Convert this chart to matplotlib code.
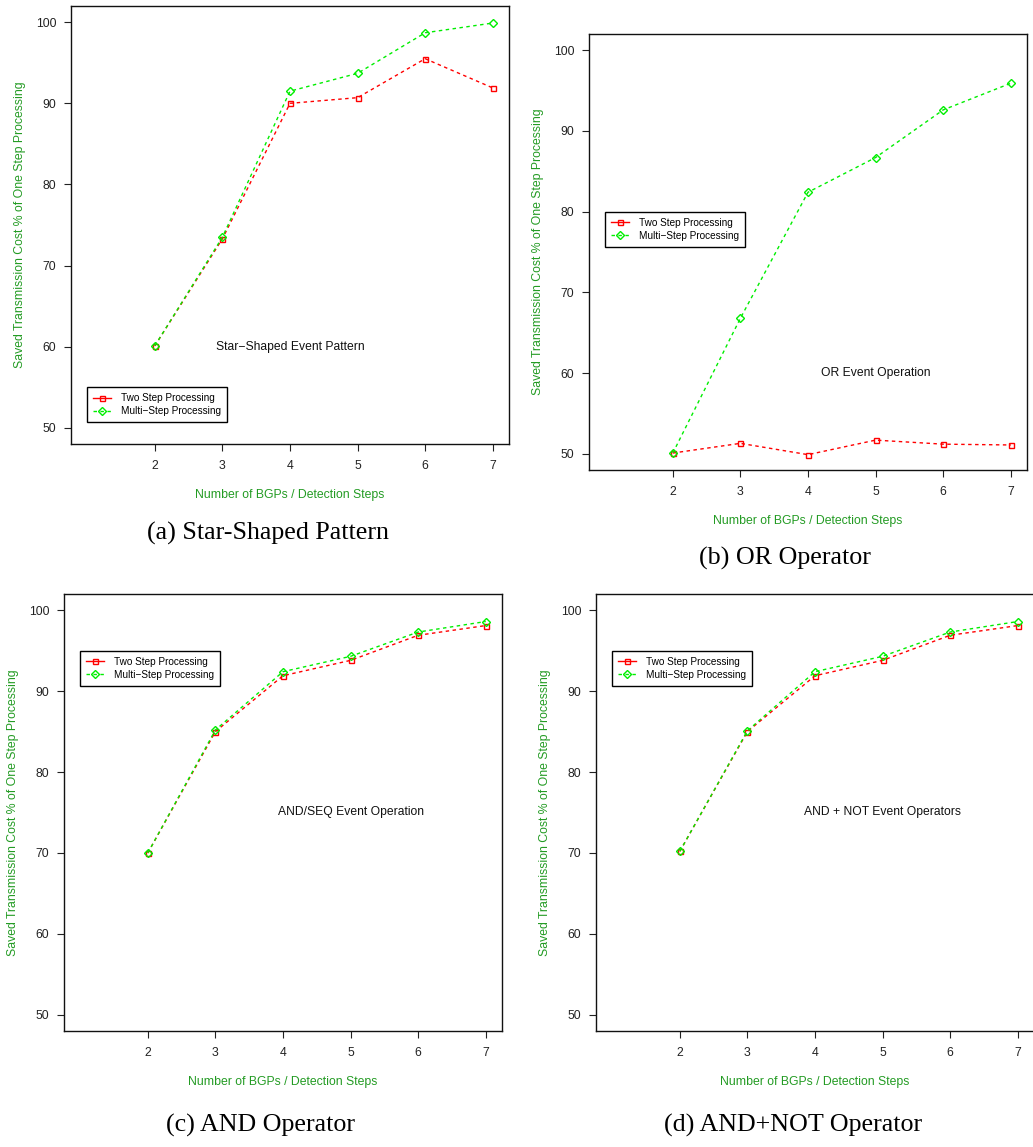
import matplotlib
matplotlib.use("Agg")
import matplotlib.pyplot as plt
from matplotlib.lines import Line2D

plt.rcParams['font.family'] = ['Liberation Sans', 'DejaVu Sans']

steps = [2, 3, 4, 5, 6, 7]

# (a) star-shaped pattern
star_two = [60.1, 73.3, 90.0, 90.7, 95.5, 91.9]
star_multi = [60.1, 73.5, 91.5, 93.7, 98.7, 99.9]
# (b) OR operator
or_two = [50.1, 51.3, 49.9, 51.7, 51.2, 51.1]
or_multi = [50.1, 66.8, 82.4, 86.7, 92.6, 95.9]
# (c) AND operator
and_two = [70.0, 85.0, 91.9, 93.8, 96.9, 98.1]
and_multi = [70.0, 85.2, 92.4, 94.3, 97.3, 98.6]
# (d) AND+NOT operator
andnot_two = [70.2, 85.0, 91.9, 93.8, 96.9, 98.1]
andnot_multi = [70.2, 85.1, 92.4, 94.3, 97.3, 98.6]

yticks = [50, 60, 70, 80, 90, 100]
series_names = ["Two Step Processing", "Multi\u2212Step Processing"]

panels = [
    # left, top, height (px), two, multi, note, note_xy, legend_xy, caption, caption_xy
    (71, 6, 438, star_two, star_multi, "Star\u2212Shaped Event Pattern", (4, 60), (1, 55),
     "(a) Star-Shaped Pattern", (268, 533)),
    (589, 34, 436, or_two, or_multi, "OR Event Operation", (5, 60), (1, 80),
     "(b) OR Operator", (785, 558)),
    (64, 594, 437, and_two, and_multi, "AND/SEQ Event Operation", (5, 75), (1, 95),
     "(c) AND Operator", (261, 1125)),
    (596, 594, 437, andnot_two, andnot_multi, "AND + NOT Event Operators", (5, 75), (1, 95),
     "(d) AND+NOT Operator", (793, 1125)),
]

W, H = 1033, 1147
fig = plt.figure(figsize=(W / 100, H / 100), dpi=100)
lab_col = "#239b23"
red = "#ff0000"
green = "#00ee00"

for left, top, h, two, multi, note, nxy, lxy, cap, cxy in panels:
    w = 438
    ax = fig.add_axes([left / W, 1 - (top + h) / H, w / W, h / H])
    ax.plot(steps, two, color=red, lw=1, dashes=(2.5, 2.5), marker='s', ms=3.6,
            mfc='none', mec=red, mew=1)
    ax.plot(steps, multi, color=green, lw=1, dashes=(2.5, 2.5), marker='D', ms=3.6,
            mfc='none', mec=green, mew=1)
    ax.set_xlim(0.76, 7.24)
    ax.set_ylim(48, 102)
    ax.set_xticks(steps)
    ax.set_yticks(yticks)
    ax.tick_params(axis='both', direction='out', length=5, width=0.8, labelsize=8.8,
                   colors='#222222')
    ax.tick_params(axis='x', pad=6.5)
    ax.tick_params(axis='y', pad=5.5)
    for s in ax.spines.values():
        s.set_linewidth(1.0)
        s.set_color('#111111')
    ax.set_xlabel("Number of BGPs / Detection Steps", color=lab_col, fontsize=8.8)
    ax.set_ylabel("Saved Transmission Cost % of One Step Processing", color=lab_col,
                  fontsize=8.8)
    ax.xaxis.set_label_coords(0.5, -45 / h)
    ax.yaxis.set_label_coords(-45 / w, 0.5)
    ax.text(nxy[0], nxy[1], note, ha='center', va='center', fontsize=8.7, color='#111111')

    handles = [
        Line2D([], [], color=red, lw=1, marker='s', ms=3.6, mfc='none', mec=red),
        Line2D([], [], color=green, lw=1, dashes=(2.5, 2.5), marker='D', ms=3.6,
               mfc='none', mec=green),
    ]
    leg = ax.legend(handles, series_names, loc='upper left', bbox_to_anchor=lxy,
                    bbox_transform=ax.transData, borderaxespad=0, fontsize=7.2,
                    frameon=True, fancybox=False, framealpha=1, edgecolor='black',
                    handlelength=1.8, handletextpad=1.0, labelspacing=0.3,
                    borderpad=0.6)
    leg.get_frame().set_linewidth(1.0)

    fig.text(cxy[0] / W, 1 - cxy[1] / H, cap, ha='center', va='center',
             fontsize=18.7, family='Liberation Serif')

fig.savefig("out.png", dpi=100)
